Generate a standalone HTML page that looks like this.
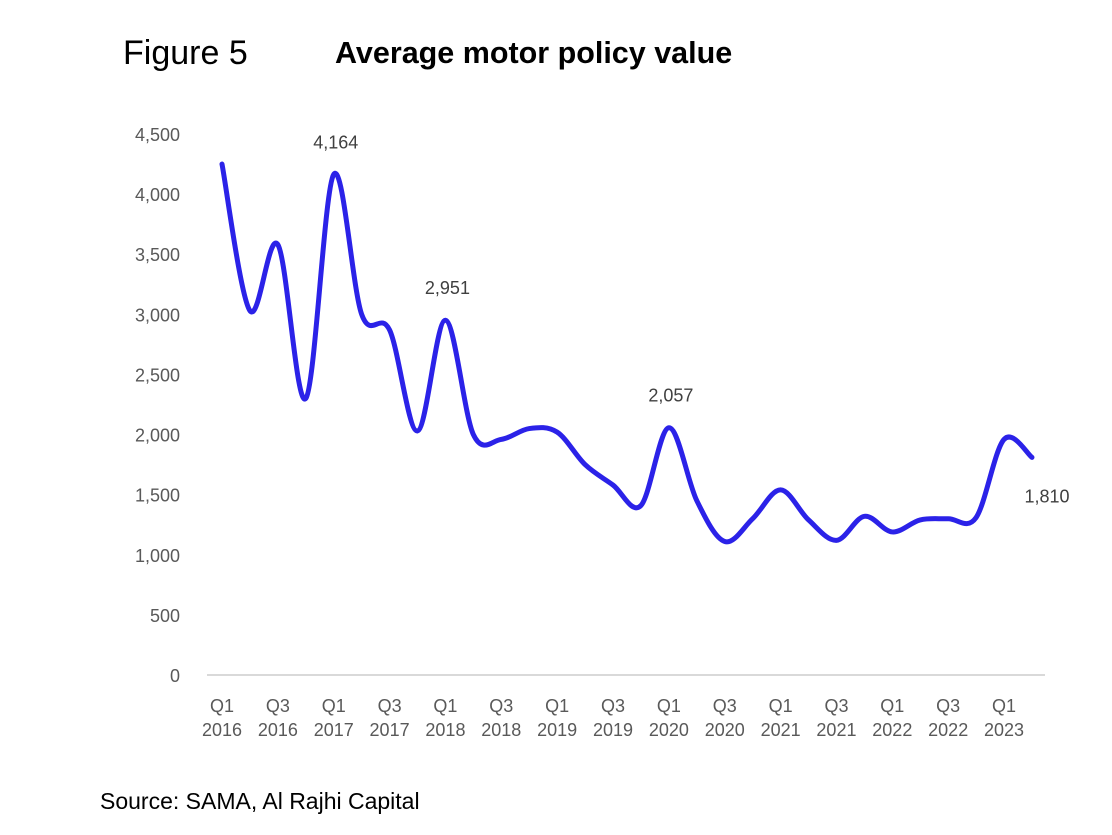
<!DOCTYPE html>
<html><head><meta charset="utf-8"><style>
body{margin:0;background:#fff;width:1112px;height:830px;overflow:hidden;font-family:"Liberation Sans",Arial,sans-serif}
</style></head><body>
<svg id="chart" width="1112" height="830" xmlns="http://www.w3.org/2000/svg">
<text x="123" y="64" font-size="34" fill="#000">Figure 5</text>
<text x="335" y="63" font-size="30.5" font-weight="bold" fill="#000">Average motor policy value</text>
<text x="100" y="809" font-size="23" fill="#000">Source: SAMA, Al Rajhi Capital</text>
<g id="yaxis"></g>
<g id="xaxis"></g>
<g id="plot"></g>
</svg>
<script>
const values=[4250,3030,3580,2300,4164,3000,2870,2030,2951,2000,1960,2050,2020,1750,1580,1410,2057,1450,1110,1300,1540,1290,1120,1320,1190,1290,1300,1310,1960,1810];
const xTickLabels=[["Q1","2016"],["Q3","2016"],["Q1","2017"],["Q3","2017"],["Q1","2018"],["Q3","2018"],["Q1","2019"],["Q3","2019"],["Q1","2020"],["Q3","2020"],["Q1","2021"],["Q3","2021"],["Q1","2022"],["Q3","2022"],["Q1","2023"]];
const yTicks=[0,500,1000,1500,2000,2500,3000,3500,4000,4500];
const labelIdx=[4,8,16,29];
const NS="http://www.w3.org/2000/svg";
const X0=222,DX=27.93,Y0=675,YMAX=4500,YTOP=134;
const xs=i=>X0+i*DX;
const ys=v=>Y0-(v/YMAX)*(Y0-YTOP);
const fmt=v=>v.toLocaleString('en-US');
function mk(tag,attrs,parent){const e=document.createElementNS(NS,tag);for(const k in attrs)e.setAttribute(k,attrs[k]);parent.appendChild(e);return e;}
const ya=document.getElementById('yaxis'),xa=document.getElementById('xaxis'),pl=document.getElementById('plot');
yTicks.forEach(t=>{const e=mk('text',{x:180,y:ys(t)+7,'text-anchor':'end','font-size':18,fill:'#595959'},ya);e.textContent=fmt(t);

});
const ax=mk('line',{x1:207,x2:1045,y1:Y0,y2:Y0,stroke:'#d9d9d9','stroke-width':2},xa);


xTickLabels.forEach((l,k)=>{const x=xs(k*2);l.forEach((s,j)=>{const e=mk('text',{x:x,y:712+j*24,'text-anchor':'middle','font-size':18,fill:'#595959'},xa);e.textContent=s;

});});
const p=values.map((v,i)=>[xs(i),ys(v)]);
let d=`M${p[0][0]},${p[0][1]}`;
for(let i=0;i<p.length-1;i++){const a=p[Math.max(i-1,0)],b=p[i],c=p[i+1],e=p[Math.min(i+2,p.length-1)];const t=1/6;
d+=` C${b[0]+(c[0]-a[0])*t},${b[1]+(c[1]-a[1])*t} ${c[0]-(e[0]-b[0])*t},${c[1]-(e[1]-b[1])*t} ${c[0]},${c[1]}`;}
const line=mk('path',{d:d,fill:'none',stroke:'#2b22e8','stroke-width':5,'stroke-linecap':'round','stroke-linejoin':'round'},pl);


labelIdx.forEach(i=>{const last=i===values.length-1;const e=mk('text',{x:last?xs(i)+15:xs(i)+2,y:last?ys(values[i])+45:ys(values[i])-26,'text-anchor':'middle','font-size':18,fill:'#404040'},pl);e.textContent=fmt(values[i]);

});
</script>
</body></html>
